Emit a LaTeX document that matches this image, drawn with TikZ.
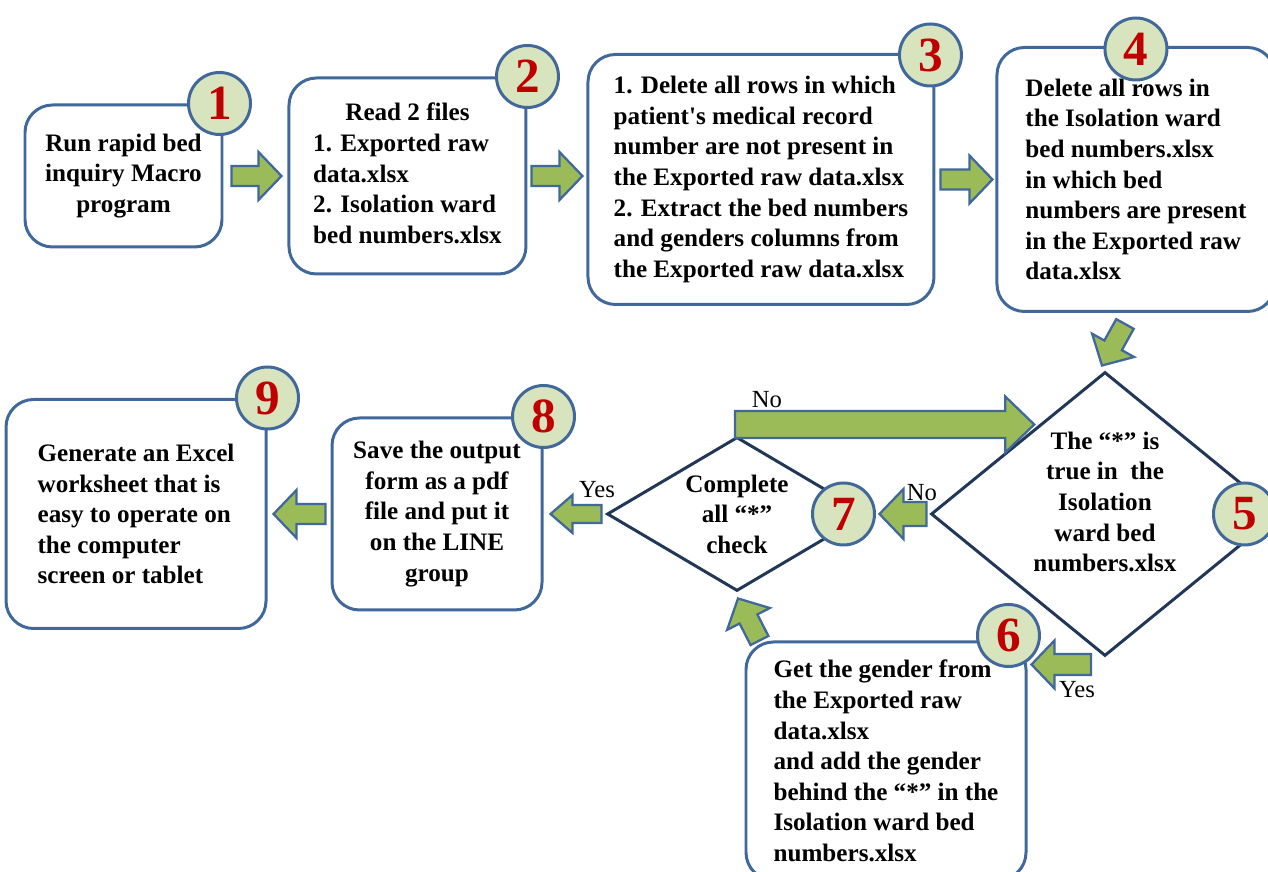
\documentclass[tikz,border=0pt]{standalone}
\usepackage{fontspec}
\setmainfont{Liberation Serif}[Ligatures=TeXOff]
\usepackage{xcolor}
\usepackage{tikz}
\usetikzlibrary{shapes.geometric, positioning, calc}
\definecolor{boxblue}{RGB}{64, 104, 154}
\definecolor{diablue}{RGB}{33, 55, 88}
\definecolor{numgreen}{RGB}{215, 228, 189}
\definecolor{numred}{RGB}{192, 0, 0}
\definecolor{arrgreen}{RGB}{155, 187, 89}

\newcommand{\arrsw}{0.2cm}
\newcommand{\arrhw}{0.48cm}
\newcommand{\arrhl}{0.46cm}
\newcommand{\fatsize}[3]{\def\arrsw{#1}\def\arrhw{#2}\def\arrhl{#3}}
\newcommand{\blockarrow}[2]{%
  \path (#1) coordinate (ba-s) (#2) coordinate (ba-t);
  \path ($(ba-t)!\arrhl!(ba-s)$) coordinate (ba-h);
  \draw[fatarrow] ($(ba-s)!\arrsw!90:(ba-t)$) -- ($(ba-h)!\arrsw!-90:(ba-s)$)
    -- ($(ba-h)!\arrhw!-90:(ba-s)$) -- (ba-t) -- ($(ba-h)!\arrhw!90:(ba-s)$)
    -- ($(ba-h)!\arrsw!90:(ba-s)$) -- ($(ba-s)!\arrsw!-90:(ba-t)$) -- cycle;
}

\begin{document}
\begin{tikzpicture}[
    stepbox/.style={rectangle, rounded corners=0.55cm, draw=boxblue, line width=1.7pt, fill=white, inner sep=0pt, font=\fontsize{14.3}{17.4}\selectfont\bfseries},
    decision/.style={diamond, draw=diablue, line width=1.7pt, fill=white, inner sep=0pt},
    dectext/.style={align=center, inner sep=0pt, font=\fontsize{14.3}{17.4}\selectfont\bfseries},
    numcircle/.style={circle, draw=boxblue, line width=1.7pt, fill=numgreen, minimum size=1.24cm, inner sep=0pt, text=numred, font=\fontsize{28}{28}\selectfont\bfseries},
    fatarrow/.style={draw=boxblue, fill=arrgreen, line width=1.3pt, line join=miter},
    lbl/.style={inner sep=0pt, font=\fontsize{14}{14}\selectfont}
]
\useasboundingbox (0,0) rectangle (25.36,17.44);

\node[stepbox, minimum width=3.94cm, minimum height=2.84cm, align=center] (b1) at (2.47,13.92) {Run rapid bed\\inquiry Macro\\program};
\node[stepbox, minimum width=4.74cm, minimum height=3.92cm, right=1.28cm of b1] (b2) {\begin{tabular}{@{}l@{}}\multicolumn{1}{@{}c@{}}{Read 2 files}\\1. Exported raw\\data.xlsx\\2. Isolation ward\\bed numbers.xlsx\end{tabular}};
\node[stepbox, minimum width=6.92cm, minimum height=5cm, align=left, right=1.18cm of b2, yshift=-0.07cm] (b3) {1. Delete all rows in which\\patient's medical record\\number are not present in\\the Exported raw data.xlsx\\2. Extract the bed numbers\\and genders columns from\\the Exported raw data.xlsx};
\node[stepbox, minimum width=5.56cm, minimum height=5.28cm, align=left, right=1.2cm of b3] (b4) {Delete all rows in\\the Isolation ward\\bed numbers.xlsx\\in which bed\\numbers are present\\in the Exported raw\\data.xlsx};

\node[decision, minimum width=5.2cm, minimum height=3.08cm] (d7) at (14.74,7.16) {};
\node[decision, minimum width=6.96cm, minimum height=5.68cm, right=1.22cm of d7] (d5) {};
\node[dectext] (t5) at ($(d5.center)+(0,0.24)$) {The “*” is\\true in\ \ the\\Isolation\\ward bed\\numbers.xlsx};
\node[dectext] (t7) at (d7.center) {Complete\\all “*”\\check};

\node[stepbox, minimum width=4.2cm, minimum height=3.84cm, align=center, left=1.24cm of d7] (b8) {Save the output\\form as a pdf\\file and put it\\on the LINE\\group};
\node[stepbox, minimum width=5.2cm, minimum height=4.58cm, align=left, left=1.26cm of b8] (b9) {Generate an Excel\\worksheet that is\\easy to operate on\\the computer\\screen or tablet};
\node[stepbox, minimum width=5.6cm, minimum height=4.76cm, align=left] (b6) at (17.72,2.22) {Get the gender from\\the Exported raw\\data.xlsx\\and add the gender\\behind the “*” in the\\Isolation ward bed\\numbers.xlsx};

\coordinate (t75) at ($(d7.north)+(-0.04,0.22)$);
\coordinate (t56) at ($(d5.south)+(-0.28,-0.14)$);

\blockarrow{$(b1.east)+(0.16,0)$}{$(b1.east -| b2.west)+(-0.12,0)$}
\blockarrow{$(b2.east)+(0.08,0)$}{$(b2.east -| b3.west)+(-0.08,0)$}
\blockarrow{$(b3.east)+(0.1,0)$}{$(b3.east -| b4.west)+(-0.06,0)$}
\blockarrow{$(b4.south)+(-0.22,-0.22)$}{$(d5.north)+(-0.06,0.1)$}
\blockarrow{$(b8.west)+(-0.1,0)$}{$(b8.west -| b9.east)+(0.12,0)$}
\blockarrow{$(b6.north west)+(0.3,0)$}{$(d7.south)+(0.02,-0.12)$}
{\fatsize{0.21cm}{0.48cm}{0.46cm}\blockarrow{t56}{$(t56 -| b6.north east)+(0.08,0)$}}
{\fatsize{0.24cm}{0.5cm}{0.48cm}\blockarrow{$(d5.west)+(-0.06,0)$}{$(d7.east)+(0.22,0)$}}
{\fatsize{0.18cm}{0.38cm}{0.44cm}\blockarrow{$(d7.west)+(-0.08,0)$}{$(d7.west -| b8.east)+(0.14,0)$}}
{\fatsize{0.27cm}{0.56cm}{0.58cm}\blockarrow{t75}{$(t75 -| d5.north west)+(0.34,0)$}}

\node[numcircle] (c1) at ($(b1.north east)+(-0.08,0)$) {1};
\node[numcircle] (c2) at (b2.north east) {2};
\node[numcircle] (c3) at ($(b3.north east)+(-0.1,-0.04)$) {3};
\node[numcircle] (c4) at ($(b4.north)+(0,-0.06)$) {4};
\node[numcircle] (c5) at ($(d5.east)+(-0.72,0)$) {5};
\node[numcircle] (c6) at ($(b6.north east)+(-0.38,0.1)$) {6};
\node[numcircle] (c7) at ($(d7.east)+(-0.5,0)$) {7};
\node[numcircle] (c8) at (b8.north east) {8};
\node[numcircle] (c9) at (b9.north east) {9};

\node[lbl] (no1) at (15.34,9.44) {No};
\node[lbl] (no2) at (18.44,7.58) {No};
\node[lbl] (yes1) at (11.94,7.64) {Yes};
\node[lbl] (yes2) at (21.54,3.64) {Yes};
\end{tikzpicture}
\end{document}
